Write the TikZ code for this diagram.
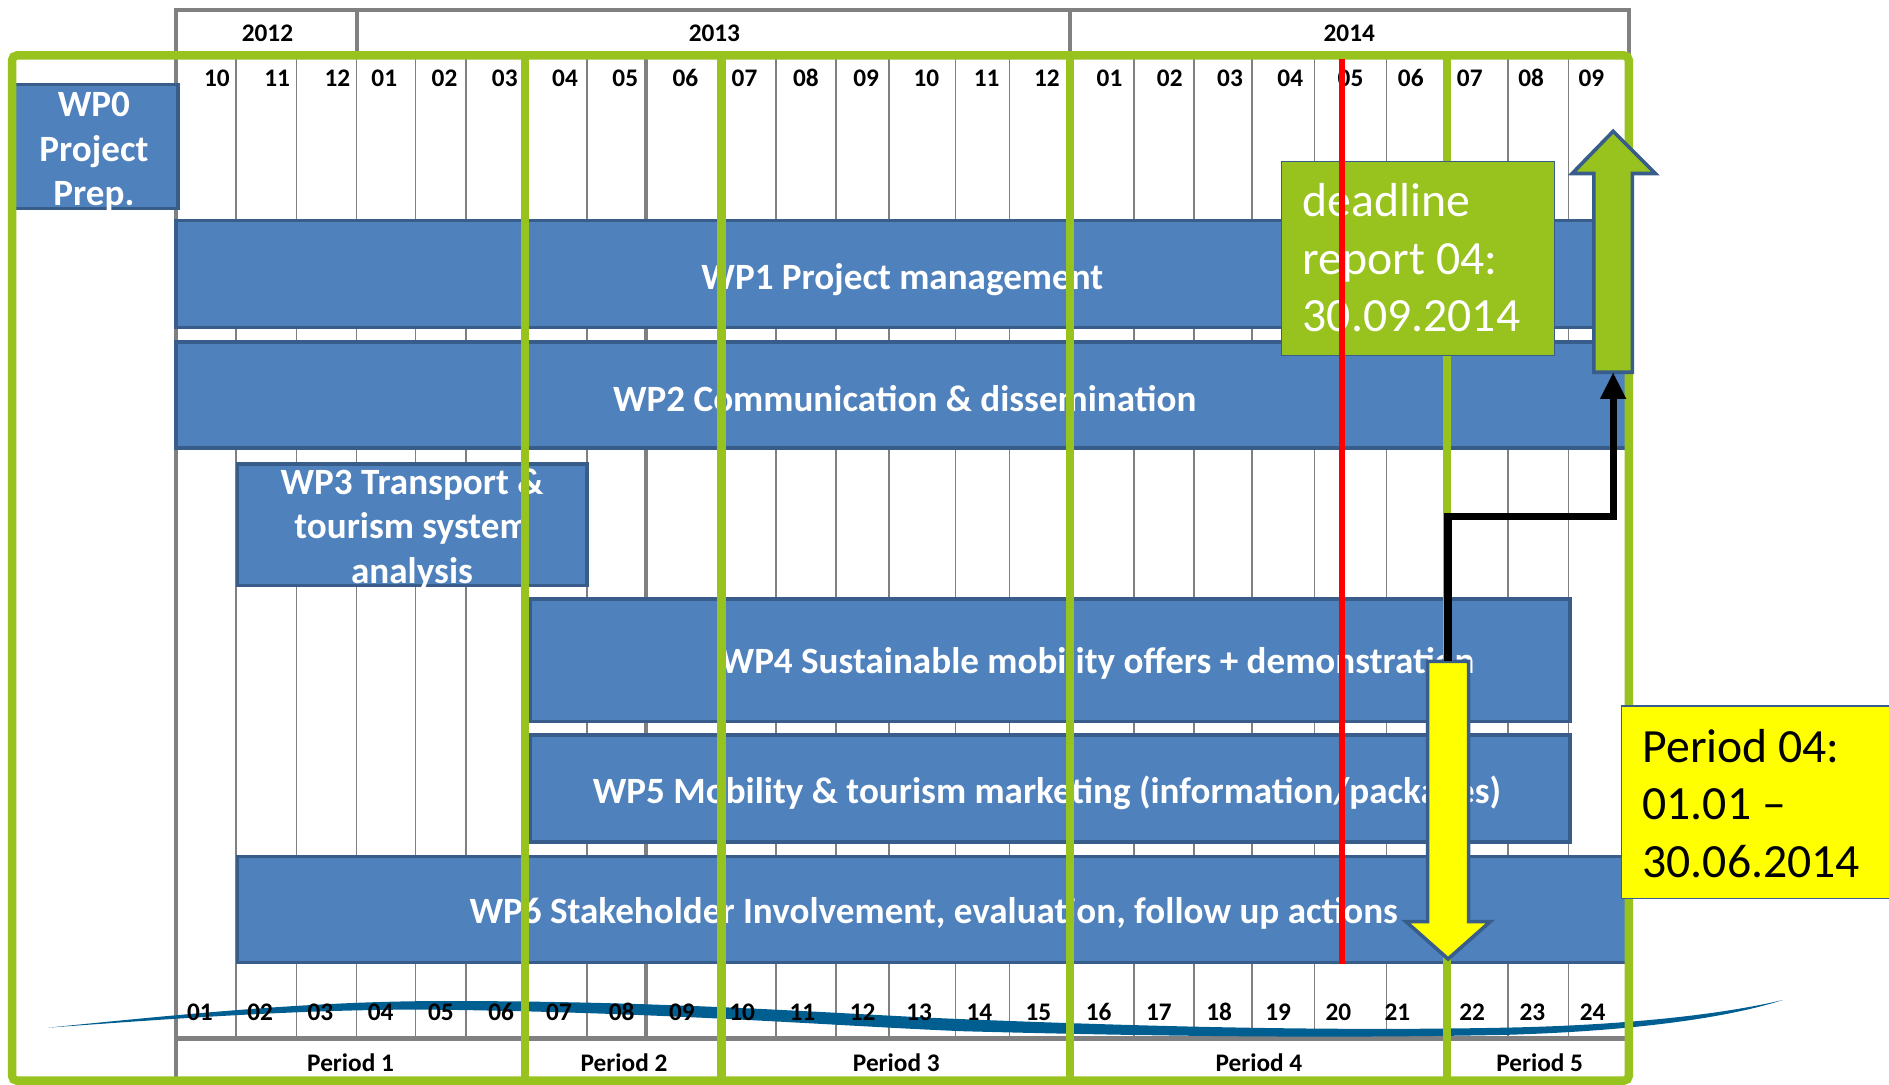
\documentclass[tikz,border=0pt]{standalone}
\usepackage{fontspec}
\setmainfont{Carlito}
\usepackage{tikz}
\usetikzlibrary{arrows.meta}
\usetikzlibrary{calc}
\definecolor{color-bar}{RGB}{79,129,189}
\definecolor{color-border}{RGB}{56,93,138}
\definecolor{color-period}{RGB}{152,194,30}
\definecolor{color-grid}{RGB}{128,128,128}
\definecolor{color-swoosh}{RGB}{0,94,145}
\definecolor{color-deadline}{RGB}{255,0,0}
\definecolor{color-note}{RGB}{255,255,0}

\begin{document}
\begin{tikzpicture}[x=0.5pt, y=-0.5pt,
  grid/.style={color-grid, line width=0.7pt},
  gridthick/.style={color-grid, line width=1.6pt},
  period/.style={color-period, line width=3.5pt},
  bar/.style={fill=color-bar, draw=color-border, line width=1.5pt},
  blockarrow/.style={draw=color-border, line width=1.5pt, line join=miter},
  wp/.style={text=white, font=\fontsize{15.4}{18.5}\selectfont\bfseries, align=center, inner sep=0pt},
  month/.style={font=\fontsize{10.5}{12}\selectfont\bfseries, inner sep=0pt},
  callout/.style={font=\fontsize{19.8}{23.8}\selectfont, align=left, inner sep=0pt, anchor=west}]

\useasboundingbox (0,0) rectangle (1568,900);
\clip (0,0) rectangle (1568,900);

% years
\draw [gridthick] (146,897)-- (146,8)-- (1352,8)-- (1352,46);
\draw [gridthick] (296,8)-- (296,46);
\draw [gridthick] (888,8)-- (888,46);
\node [month] (y2012) at (222,28) {2012};
\node [month] (y2013) at (593,28) {2013};
\node [month] (y2014) at (1120,28) {2014};

% month grid
\foreach \gx in {196,246,296,345,387,487,644,694,738,793,838,941,991,1039,1091,1151,1252,1302}
  \draw [grid] (\gx,46)-- (\gx,862);
\draw [gridthick] (536,46)-- (536,862);
\draw [color-grid, line width=2pt] (146,862)-- (1352,862);

\foreach \mx/\mt [count=\i] in {180/10,230/11,280/12,319/01,369/02,419/03,469/04,519/05,569/06,618/07,669/08,719/09,769/10,819/11,869/12,921/01,971/02,1021/03,1071/04,1121/05,1171/06,1220/07,1271/08,1321/09}
  \node [month] (m\i) at (\mx,65) {\mt};

% swoosh behind the project months
\fill [color-swoosh] (40,853) .. controls (150,842) and (250,832) .. (352,831)
  .. controls (550,830) and (700,842) .. (800,846)
  .. controls (950,852) and (1100,856) .. (1250,853)
  .. controls (1350,851) and (1430,842) .. (1480,830)
  .. controls (1430,846) and (1350,856) .. (1250,859)
  .. controls (1100,862) and (950,860) .. (800,856)
  .. controls (700,852) and (550,840) .. (352,838)
  .. controls (250,838) and (150,845) .. (40,853) -- cycle;

\foreach \nx [count=\i] in {166,216,266,316,366,416,464,516,566,616,666,716,763,813,862,912,962,1012,1061,1111,1160,1222,1272,1322}
  \node [month] (c\i) at (\nx,840) {\ifnum\i<10 0\fi\i};

\node [month] (p1) at (291,882) {Period 1};
\node [month] (p2) at (518,882) {Period 2};
\node [month] (p3) at (744,882) {Period 3};
\node [month] (p4) at (1045,882) {Period 4};
\node [month] (p5) at (1278,882) {Period 5};

% work packages
\draw [bar] (12,70) rectangle (148,173);
\node [wp] (wp0) at (78,126) {WP0\\Project\\Prep.};

\draw [bar] (146,183) rectangle (1350,272);
\node [wp] (wp1) at (749,232) {WP1 Project management};

\draw [bar] (146,284) rectangle (1350,372);
\node [wp] (wp2) at (751,331) {WP2 Communication \& dissemination};

\draw [bar] (197,385) rectangle (487,486);
\node [wp] (wp3) at (342,439) {WP3 Transport \&\\tourism system\\analysis};

\draw [bar] (440,497) rectangle (1303,599);
\node [wp] (wp4) at (911,551) {WP4 Sustainable mobility offers + demonstration};

\draw [bar] (440,610) rectangle (1303,699);
\node [wp] (wp5) at (869,658) {WP5 Mobility \& tourism marketing (information/packages)};

\draw [bar] (197,711) rectangle (1350,799);
\node [wp] (wp6) at (775,758) {WP6 Stakeholder Involvement, evaluation, follow up actions};

% reporting periods
\draw [period, rounded corners=2pt] (10,897)-- (10,46)-- (1352,46)-- (1352,897)-- cycle;
\draw [period] (436,46)-- (436,897);
\draw [period] (599,46)-- (599,897);
\draw [period] (888,46)-- (888,897);
\draw [period] (1201,46)-- (1201,897);

% deadline
\draw [fill=color-period, draw=color-border, line width=0.5pt] (1064,134) rectangle (1290,295);
\node [callout, text=white] (deadline) at (1081,214) {deadline\\report 04:\\30.09.2014};
\draw [color-deadline, line width=2.5pt] (1114,49)-- (1114,800);

\coordinate (up-foot) at (1339,309);
\draw [blockarrow, fill=color-period] (1323,309)-- (1323,144)-- (1305,144)-- (1339,109)-- (1374,144)-- (1355,144)-- (1355,309)-- cycle;

\coordinate (down-top) at (1202,549);
\draw [blockarrow, fill=color-note] (1185,549)-- (1185,765)-- (1167,765)-- (1202,796)-- (1237,765)-- (1219,765)-- (1219,549)-- cycle;

\coordinate (bend) at (1339,429);
\draw [line width=3pt, -{Triangle[width=10pt,length=11pt]}] (down-top) |- (bend)-- (up-foot);

\draw [fill=color-note, draw=color-border, line width=0.5pt] (1346,586) rectangle (1580,746);
\node [callout, text=black] (period04) at (1363,667) {Period 04:\\01.01 –\\30.06.2014};

\end{tikzpicture}
\end{document}
